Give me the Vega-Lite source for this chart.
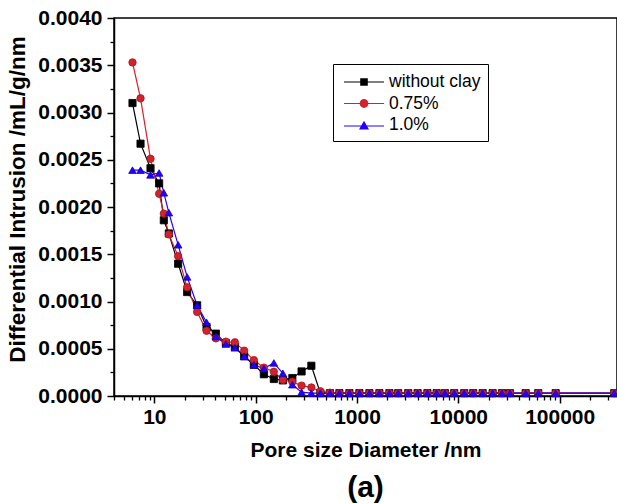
{
  "$schema": "https://vega.github.io/schema/vega-lite/v6.json",
  "width": 503,
  "height": 378,
  "autosize": {"type": "none"},
  "padding": {"left": 114, "top": 18, "right": 0, "bottom": 108},
  "background": "white",
  "config": {"view": {"stroke": "black", "strokeWidth": 1.5}, "font": "Liberation Sans"},
  "title": {"text": "(a)", "orient": "bottom", "fontSize": 30, "fontWeight": "bold", "font": "Liberation Sans", "color": "black", "offset": 13},
  "datasets": {
    "pores": [
      {"series": "without clay", "diameter": 6.09, "intrusion": 0.0031},
      {"series": "without clay", "diameter": 7.31, "intrusion": 0.00267},
      {"series": "without clay", "diameter": 9.17, "intrusion": 0.00241},
      {"series": "without clay", "diameter": 11.15, "intrusion": 0.00225},
      {"series": "without clay", "diameter": 12.41, "intrusion": 0.00186},
      {"series": "without clay", "diameter": 13.9, "intrusion": 0.00172},
      {"series": "without clay", "diameter": 17.18, "intrusion": 0.0014},
      {"series": "without clay", "diameter": 21.08, "intrusion": 0.0011},
      {"series": "without clay", "diameter": 26.45, "intrusion": 0.00096},
      {"series": "without clay", "diameter": 32.76, "intrusion": 0.00073},
      {"series": "without clay", "diameter": 40.48, "intrusion": 0.00066},
      {"series": "without clay", "diameter": 50.8, "intrusion": 0.00056},
      {"series": "without clay", "diameter": 62.32, "intrusion": 0.00052},
      {"series": "without clay", "diameter": 77.0, "intrusion": 0.00042},
      {"series": "without clay", "diameter": 95.99, "intrusion": 0.00033},
      {"series": "without clay", "diameter": 120.5, "intrusion": 0.00023},
      {"series": "without clay", "diameter": 151.2, "intrusion": 0.00018},
      {"series": "without clay", "diameter": 185.6, "intrusion": 0.000165},
      {"series": "without clay", "diameter": 230.2, "intrusion": 0.00019},
      {"series": "without clay", "diameter": 283.9, "intrusion": 0.00026},
      {"series": "without clay", "diameter": 354.6, "intrusion": 0.00032},
      {"series": "without clay", "diameter": 435.2, "intrusion": 0.00003},
      {"series": "without clay", "diameter": 540.1, "intrusion": 0.00003},
      {"series": "without clay", "diameter": 670.3, "intrusion": 0.00003},
      {"series": "without clay", "diameter": 841.4, "intrusion": 0.00003},
      {"series": "without clay", "diameter": 1056, "intrusion": 0.00003},
      {"series": "without clay", "diameter": 1326, "intrusion": 0.00003},
      {"series": "without clay", "diameter": 1664, "intrusion": 0.00003},
      {"series": "without clay", "diameter": 2089, "intrusion": 0.00003},
      {"series": "without clay", "diameter": 2551, "intrusion": 0.00003},
      {"series": "without clay", "diameter": 3202, "intrusion": 0.00003},
      {"series": "without clay", "diameter": 3965, "intrusion": 0.00003},
      {"series": "without clay", "diameter": 4955, "intrusion": 0.00003},
      {"series": "without clay", "diameter": 6107, "intrusion": 0.00003},
      {"series": "without clay", "diameter": 7376, "intrusion": 0.00003},
      {"series": "without clay", "diameter": 9110, "intrusion": 0.00003},
      {"series": "without clay", "diameter": 11436, "intrusion": 0.00003},
      {"series": "without clay", "diameter": 14030, "intrusion": 0.00003},
      {"series": "without clay", "diameter": 17380, "intrusion": 0.00003},
      {"series": "without clay", "diameter": 21810, "intrusion": 0.00003},
      {"series": "without clay", "diameter": 26950, "intrusion": 0.00003},
      {"series": "without clay", "diameter": 32310, "intrusion": 0.00003},
      {"series": "without clay", "diameter": 46170, "intrusion": 0.00003},
      {"series": "without clay", "diameter": 61500, "intrusion": 0.00003},
      {"series": "without clay", "diameter": 91300, "intrusion": 0.00003},
      {"series": "without clay", "diameter": 345900, "intrusion": 0.00003},
      {"series": "0.75%", "diameter": 6.09, "intrusion": 0.00353},
      {"series": "0.75%", "diameter": 7.31, "intrusion": 0.00315},
      {"series": "0.75%", "diameter": 9.17, "intrusion": 0.00251},
      {"series": "0.75%", "diameter": 11.15, "intrusion": 0.00214},
      {"series": "0.75%", "diameter": 12.41, "intrusion": 0.00193},
      {"series": "0.75%", "diameter": 13.9, "intrusion": 0.00171},
      {"series": "0.75%", "diameter": 17.18, "intrusion": 0.00148},
      {"series": "0.75%", "diameter": 21.08, "intrusion": 0.00115},
      {"series": "0.75%", "diameter": 26.45, "intrusion": 0.00089},
      {"series": "0.75%", "diameter": 32.76, "intrusion": 0.00069},
      {"series": "0.75%", "diameter": 40.48, "intrusion": 0.00061},
      {"series": "0.75%", "diameter": 50.8, "intrusion": 0.000575},
      {"series": "0.75%", "diameter": 62.32, "intrusion": 0.000568},
      {"series": "0.75%", "diameter": 77.0, "intrusion": 0.00048},
      {"series": "0.75%", "diameter": 95.99, "intrusion": 0.00038},
      {"series": "0.75%", "diameter": 120.5, "intrusion": 0.0003},
      {"series": "0.75%", "diameter": 151.2, "intrusion": 0.000257},
      {"series": "0.75%", "diameter": 185.6, "intrusion": 0.00017},
      {"series": "0.75%", "diameter": 230.2, "intrusion": 0.00015},
      {"series": "0.75%", "diameter": 283.9, "intrusion": 0.00011},
      {"series": "0.75%", "diameter": 354.6, "intrusion": 0.00009},
      {"series": "0.75%", "diameter": 435.2, "intrusion": 0.00005},
      {"series": "0.75%", "diameter": 540.1, "intrusion": 0.000035},
      {"series": "0.75%", "diameter": 670.3, "intrusion": 0.00003},
      {"series": "0.75%", "diameter": 841.4, "intrusion": 0.00003},
      {"series": "0.75%", "diameter": 1056, "intrusion": 0.00003},
      {"series": "0.75%", "diameter": 1326, "intrusion": 0.00003},
      {"series": "0.75%", "diameter": 1664, "intrusion": 0.00003},
      {"series": "0.75%", "diameter": 2089, "intrusion": 0.00003},
      {"series": "0.75%", "diameter": 2551, "intrusion": 0.00003},
      {"series": "0.75%", "diameter": 3202, "intrusion": 0.00003},
      {"series": "0.75%", "diameter": 3965, "intrusion": 0.00003},
      {"series": "0.75%", "diameter": 4955, "intrusion": 0.00003},
      {"series": "0.75%", "diameter": 6107, "intrusion": 0.00003},
      {"series": "0.75%", "diameter": 7376, "intrusion": 0.00003},
      {"series": "0.75%", "diameter": 9110, "intrusion": 0.00003},
      {"series": "0.75%", "diameter": 11436, "intrusion": 0.00003},
      {"series": "0.75%", "diameter": 14030, "intrusion": 0.00003},
      {"series": "0.75%", "diameter": 17380, "intrusion": 0.00003},
      {"series": "0.75%", "diameter": 21810, "intrusion": 0.00003},
      {"series": "0.75%", "diameter": 26950, "intrusion": 0.00003},
      {"series": "0.75%", "diameter": 32310, "intrusion": 0.00003},
      {"series": "0.75%", "diameter": 46170, "intrusion": 0.00003},
      {"series": "0.75%", "diameter": 61500, "intrusion": 0.00003},
      {"series": "0.75%", "diameter": 91300, "intrusion": 0.00003},
      {"series": "0.75%", "diameter": 345900, "intrusion": 0.00003},
      {"series": "1.0%", "diameter": 6.09, "intrusion": 0.00239},
      {"series": "1.0%", "diameter": 7.31, "intrusion": 0.00239},
      {"series": "1.0%", "diameter": 9.17, "intrusion": 0.00234},
      {"series": "1.0%", "diameter": 11.15, "intrusion": 0.00236},
      {"series": "1.0%", "diameter": 12.41, "intrusion": 0.00215},
      {"series": "1.0%", "diameter": 13.9, "intrusion": 0.00194},
      {"series": "1.0%", "diameter": 17.18, "intrusion": 0.0016},
      {"series": "1.0%", "diameter": 21.08, "intrusion": 0.00126},
      {"series": "1.0%", "diameter": 26.45, "intrusion": 0.00096},
      {"series": "1.0%", "diameter": 32.76, "intrusion": 0.00078},
      {"series": "1.0%", "diameter": 40.48, "intrusion": 0.00063},
      {"series": "1.0%", "diameter": 50.8, "intrusion": 0.00055},
      {"series": "1.0%", "diameter": 62.32, "intrusion": 0.00051},
      {"series": "1.0%", "diameter": 77.0, "intrusion": 0.00042},
      {"series": "1.0%", "diameter": 95.99, "intrusion": 0.00033},
      {"series": "1.0%", "diameter": 120.5, "intrusion": 0.00029},
      {"series": "1.0%", "diameter": 151.2, "intrusion": 0.00035},
      {"series": "1.0%", "diameter": 185.6, "intrusion": 0.00024},
      {"series": "1.0%", "diameter": 230.2, "intrusion": 0.00012},
      {"series": "1.0%", "diameter": 283.9, "intrusion": 0.00004},
      {"series": "1.0%", "diameter": 354.6, "intrusion": 0.00003},
      {"series": "1.0%", "diameter": 435.2, "intrusion": 0.00003},
      {"series": "1.0%", "diameter": 540.1, "intrusion": 0.00003},
      {"series": "1.0%", "diameter": 670.3, "intrusion": 0.00003},
      {"series": "1.0%", "diameter": 841.4, "intrusion": 0.00003},
      {"series": "1.0%", "diameter": 1056, "intrusion": 0.00003},
      {"series": "1.0%", "diameter": 1326, "intrusion": 0.00003},
      {"series": "1.0%", "diameter": 1664, "intrusion": 0.00003},
      {"series": "1.0%", "diameter": 2089, "intrusion": 0.00003},
      {"series": "1.0%", "diameter": 2551, "intrusion": 0.00003},
      {"series": "1.0%", "diameter": 3202, "intrusion": 0.00003},
      {"series": "1.0%", "diameter": 3965, "intrusion": 0.00003},
      {"series": "1.0%", "diameter": 4955, "intrusion": 0.00003},
      {"series": "1.0%", "diameter": 6107, "intrusion": 0.00003},
      {"series": "1.0%", "diameter": 7376, "intrusion": 0.00003},
      {"series": "1.0%", "diameter": 9110, "intrusion": 0.00003},
      {"series": "1.0%", "diameter": 11436, "intrusion": 0.00003},
      {"series": "1.0%", "diameter": 14030, "intrusion": 0.00003},
      {"series": "1.0%", "diameter": 17380, "intrusion": 0.00003},
      {"series": "1.0%", "diameter": 21810, "intrusion": 0.00003},
      {"series": "1.0%", "diameter": 26950, "intrusion": 0.00003},
      {"series": "1.0%", "diameter": 32310, "intrusion": 0.00003},
      {"series": "1.0%", "diameter": 46170, "intrusion": 0.00003},
      {"series": "1.0%", "diameter": 61500, "intrusion": 0.00003},
      {"series": "1.0%", "diameter": 91300, "intrusion": 0.00003},
      {"series": "1.0%", "diameter": 345900, "intrusion": 0.00003}
    ]
  },
  "data": {"name": "pores"},
  "layer": [
    {
      "mark": {"type": "line", "strokeWidth": 1.2},
      "encoding": {
        "x": {
          "field": "diameter", "type": "quantitative",
          "scale": {"type": "log", "domain": [4, 368000], "nice": false},
          "axis": {
            "orient": "bottom", "values": [10, 100, 1000, 10000, 100000], "format": "d",
            "labelFont": "Liberation Sans", "labelFontSize": 21, "labelFontWeight": "bold", "labelColor": "black",
            "labelPadding": 3, "labelFlush": false, "labelOverlap": false,
            "tickSize": 7, "tickWidth": 1.5, "tickColor": "black",
            "domainColor": "black", "domainWidth": 1.5, "grid": false,
            "title": "Pore size Diameter /nm", "titleFont": "Liberation Sans", "titleFontSize": 21,
            "titleFontWeight": "bold", "titleColor": "black", "titlePadding": 12
          }
        },
        "y": {
          "field": "intrusion", "type": "quantitative",
          "scale": {"domain": [0, 0.004], "nice": false},
          "axis": {
            "orient": "left", "values": [0, 0.0005, 0.001, 0.0015, 0.002, 0.0025, 0.003, 0.0035, 0.004], "format": ".4f",
            "labelFont": "Liberation Sans", "labelFontSize": 21, "labelFontWeight": "bold", "labelColor": "black",
            "labelPadding": 5, "labelFlush": false, "labelOverlap": false,
            "tickSize": 7, "tickWidth": 1.5, "tickColor": "black",
            "domainColor": "black", "domainWidth": 1.5, "grid": false,
            "title": "Differential Intrusion /mL/g/nm", "titleFont": "Liberation Sans", "titleFontSize": 22.5,
            "titleFontWeight": "bold", "titleColor": "black", "titlePadding": 8, "titleY": 181
          }
        },
        "color": {
          "field": "series", "type": "nominal",
          "scale": {"domain": ["without clay", "0.75%", "1.0%"], "range": ["#000000", "#d3222a", "#2200ff"]},
          "legend": null
        }
      }
    },
    {
      "mark": {"type": "point", "filled": true, "opacity": 1, "strokeWidth": 0.8},
      "encoding": {
        "x": {
          "field": "diameter", "type": "quantitative",
          "axis": {
            "orient": "bottom", "values": [4, 5, 6, 7, 8, 9, 20, 30, 40, 50, 60, 70, 80, 90, 200, 300, 400, 500, 600, 700, 800, 900, 2000, 3000, 4000, 5000, 6000, 7000, 8000, 9000, 20000, 30000, 40000, 50000, 60000, 70000, 80000, 90000, 200000, 300000],
            "labels": false, "domain": false, "grid": false, "title": null,
            "tickSize": 4, "tickWidth": 1.3, "tickColor": "black"
          }
        },
        "y": {
          "field": "intrusion", "type": "quantitative",
          "axis": {
            "orient": "left", "values": [0.00025, 0.00075, 0.00125, 0.00175, 0.00225, 0.00275, 0.00325, 0.00375],
            "labels": false, "domain": false, "grid": false, "title": null,
            "tickSize": 4, "tickWidth": 1.3, "tickColor": "black"
          }
        },
        "color": {
          "field": "series", "type": "nominal",
          "scale": {"domain": ["without clay", "0.75%", "1.0%"], "range": ["#000000", "#d3222a", "#2200ff"]},
          "legend": null
        },
        "shape": {
          "field": "series", "type": "nominal",
          "scale": {"domain": ["without clay", "0.75%", "1.0%"], "range": ["square", "circle", "triangle-up"]},
          "legend": null
        },
        "size": {
          "field": "series", "type": "nominal",
          "scale": {"domain": ["without clay", "0.75%", "1.0%"], "range": [52, 58, 100]},
          "legend": null
        },
        "stroke": {
          "field": "series", "type": "nominal",
          "scale": {"domain": ["without clay", "0.75%", "1.0%"], "range": ["#000000", "#a8141c", "#1800c0"]},
          "legend": null
        }
      }
    },
    {
      "transform": [{"filter": "false"}],
      "mark": {"type": "point", "filled": true, "opacity": 1, "size": 400},
      "encoding": {
        "x": {"field": "diameter", "type": "quantitative", "axis": null},
        "y": {"field": "intrusion", "type": "quantitative", "axis": null},
        "color": {
          "field": "series", "type": "nominal",
          "scale": {"domain": ["without clay", "0.75%", "1.0%"], "range": ["#000000", "#d3222a", "#2200ff"]},
          "legend": {
            "orient": "none", "legendX": 219, "legendY": 46, "title": null,
            "strokeColor": "black", "fillColor": "white", "padding": 7,
            "labelFont": "Liberation Sans", "labelFontSize": 17.5, "labelColor": "black",
            "symbolSize": 400, "symbolOpacity": 1, "symbolOffset": 13, "labelOffset": 14, "rowPadding": 1.5
          }
        },
        "shape": {
          "field": "series", "type": "nominal",
          "scale": {
            "domain": ["without clay", "0.75%", "1.0%"],
            "range": [
              "M-2,-0.06H2V0.06H-2ZM-0.38,-0.38H0.38V0.38H-0.38Z",
              "M-2,-0.06H2V0.06H-2ZM-0.44,0A0.44,0.44,0,1,1,0.44,0A0.44,0.44,0,1,1,-0.44,0Z",
              "M-2,0.04H2V0.16H-2ZM0,-0.42L0.5,0.45H-0.5Z"
            ]
          },
          "legend": {
            "orient": "none", "legendX": 219, "legendY": 46, "title": null,
            "strokeColor": "black", "fillColor": "white", "padding": 7,
            "labelFont": "Liberation Sans", "labelFontSize": 17.5, "labelColor": "black",
            "symbolSize": 400, "symbolOpacity": 1, "symbolOffset": 13, "labelOffset": 14, "rowPadding": 1.5
          }
        }
      }
    }
  ],
  "resolve": {"axis": {"x": "independent", "y": "independent"}, "scale": {"shape": "independent", "color": "independent"}}
}
